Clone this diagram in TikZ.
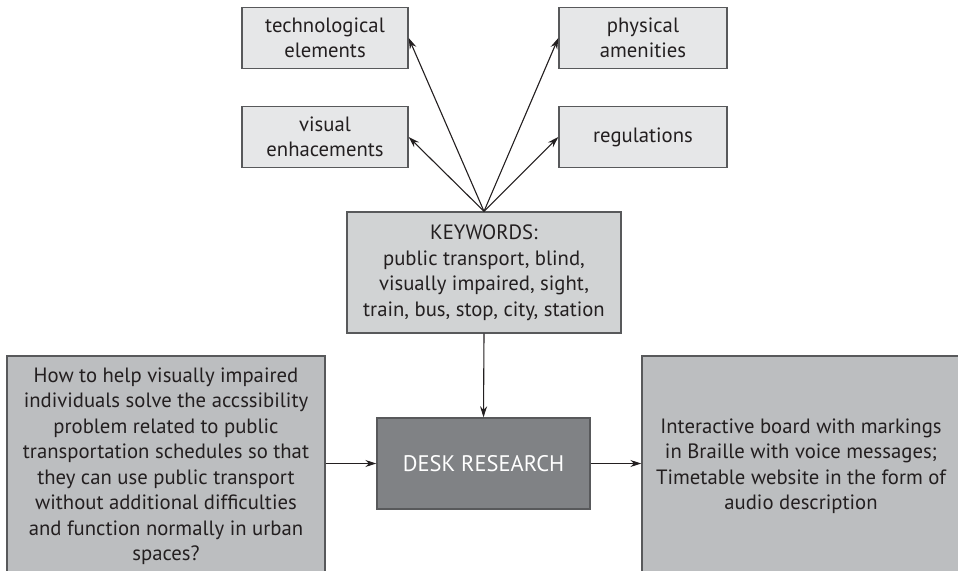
\documentclass[tikz,border=0pt]{standalone}
\usepackage{fontspec}
\setmainfont{PT Sans}
\usetikzlibrary{arrows.meta}
\definecolor{edge}{HTML}{58595B}
\definecolor{ink}{HTML}{231F20}
\definecolor{paleFill}{HTML}{E6E7E8}
\definecolor{keyFill}{HTML}{D1D3D4}
\definecolor{sideFill}{HTML}{BCBEC0}
\definecolor{deskFill}{HTML}{808285}
\tikzset{
  box/.style={draw=edge, line width=1.4pt, rectangle, align=center, inner sep=0pt,
    text=ink, font=\fontsize{20.7}{25.5}\selectfont},
  topbox/.style={box, fill=paleFill, minimum width=166pt, minimum height=61pt},
  link/.style={draw=ink, line width=1.1pt, -{Stealth[length=11pt,width=7pt]}}
}
\begin{document}
\begin{tikzpicture}[x=1pt,y=-1pt]
  \useasboundingbox (0,0) rectangle (958,570);
  \clip (0,0) rectangle (958,570);

  % four themes above the keyword box
  \node[topbox] (tech) at (325,38) {technological\\elements};
  \node[topbox] (visual) at (325,137) {visual\\enhacements};
  \node[topbox, minimum width=168pt] (phys) at (643,38) {physical\\amenities};
  \node[topbox, minimum width=168pt] (regs) at (643,137) {regulations};

  % keyword box
  \node[box, fill=keyFill, minimum width=274pt, minimum height=121pt] (kw) at (484,272.5)
    {KEYWORDS:\\public transport, blind,\\visually impaired, sight,\\train, bus, stop, city, station};

  % central step
  \node[box, fill=deskFill, text=white, font=\fontsize{22.5}{27}\selectfont,
        minimum width=213pt, minimum height=91pt] (desk) at (483.5,463.5)
    {DESK RESEARCH};

  % question and outcome boxes, running off the lower edge
  \node[box, fill=sideFill, minimum width=318pt, minimum height=220pt] (question) at (166,466)
    {How to help visually impaired\\individuals solve the accssibility\\problem related to public\\transportation schedules so that\\they can use public transport\\without additional difficulties\\and function normally in urban\\spaces?};
  \node[box, fill=sideFill, minimum width=318pt, minimum height=220pt] (outcome) at (801,466)
    {Interactive board with markings\\in Braille with voice messages;\\Timetable website in the form of\\audio description};

  % connectors
  \coordinate (src) at (kw.north);
  \draw[link] (src) -- (tech.east);
  \draw[link] (src) -- (visual.east);
  \draw[link] (src) -- (phys.west);
  \draw[link] (src) -- (regs.west);
  \draw[link] (kw.south) -- (desk.north);
  \draw[link] (question.east |- desk.west) -- (desk.west);
  \draw[link] (desk.east) -- (outcome.west |- desk.east);
\end{tikzpicture}
\end{document}
